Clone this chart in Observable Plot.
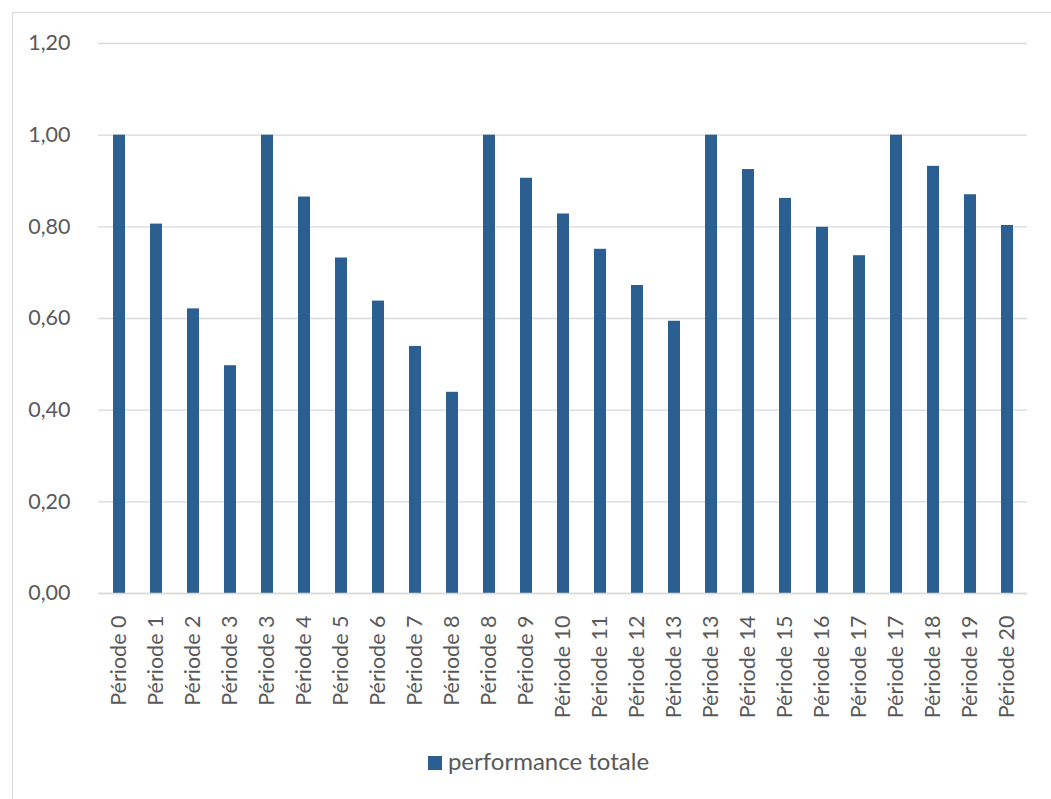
<!DOCTYPE html>
<html>
<head>
<meta charset="utf-8">
<script src="https://cdn.jsdelivr.net/npm/d3@7"></script>
<script src="https://cdn.jsdelivr.net/npm/@observablehq/plot@0.6"></script>
<style>
  html, body { margin: 0; padding: 0; background: #fff; overflow: hidden; width: 1051px; height: 799px; }
  #frame { position: absolute; left: 12px; top: 12px; width: 1100px; height: 900px; border: 1px solid #d9d9d9; box-sizing: border-box; }
  #chart { position: absolute; left: 0; top: 0; }
  #legend { position: absolute; left: 0; top: 746px; width: 1077px; text-align: center; font-family: Lato, sans-serif; font-size: 24px; color: #595959; }
  #legend .sw { display: inline-block; width: 14px; height: 14px; background: #2b5f91; margin-right: 6px; vertical-align: 0px; }
</style>
</head>
<body>
<div id="frame"></div>
<div id="chart"></div>
<div id="legend"><span class="sw"></span>performance totale</div>
<script>
const labels = ["Période 0","Période 1","Période 2","Période 3","Période 3","Période 4","Période 5","Période 6","Période 7","Période 8","Période 8","Période 9","Période 10","Période 11","Période 12","Période 13","Période 13","Période 14","Période 15","Période 16","Période 17","Période 17","Période 18","Période 19","Période 20"];
const values = [1.00,0.806,0.621,0.497,1.00,0.865,0.732,0.638,0.539,0.439,1.00,0.906,0.828,0.751,0.672,0.594,1.00,0.925,0.862,0.799,0.737,1.00,0.932,0.870,0.803];
const yTicks = [0,0.2,0.4,0.6,0.8,1.0,1.2];

const data = labels.map((l, i) => ({key: String(i), label: l, value: values[i]}));
const fmt = d => d.toFixed(2).replace(".", ",");

const chart = Plot.plot({
  width: 1051,
  height: 745,
  marginLeft: 98,
  marginRight: 24,
  marginTop: 43,
  marginBottom: 152,
  style: {fontFamily: "Lato, sans-serif", fontSize: "21.5px", color: "#595959", background: "transparent"},
  x: {domain: data.map(d => d.key), paddingInner: 0.685, paddingOuter: 0.3425, tickFormat: k => labels[+k], tickRotate: -90, tickSize: 0, tickPadding: 22, label: null},
  y: {domain: [0, 1.2], ticks: yTicks, tickFormat: fmt, tickSize: 0, tickPadding: 28, label: null},
  marks: [
    Plot.gridY(yTicks, {stroke: "#d9d9d9", strokeOpacity: 1, strokeWidth: 1.3}),
    Plot.barY(data, {x: "key", y: "value", fill: "#2b5f91"}),
    Plot.ruleY([0], {stroke: "#d9d9d9", strokeWidth: 1.5})
  ]
});
document.getElementById("chart").appendChild(chart);
</script>
</body>
</html>
